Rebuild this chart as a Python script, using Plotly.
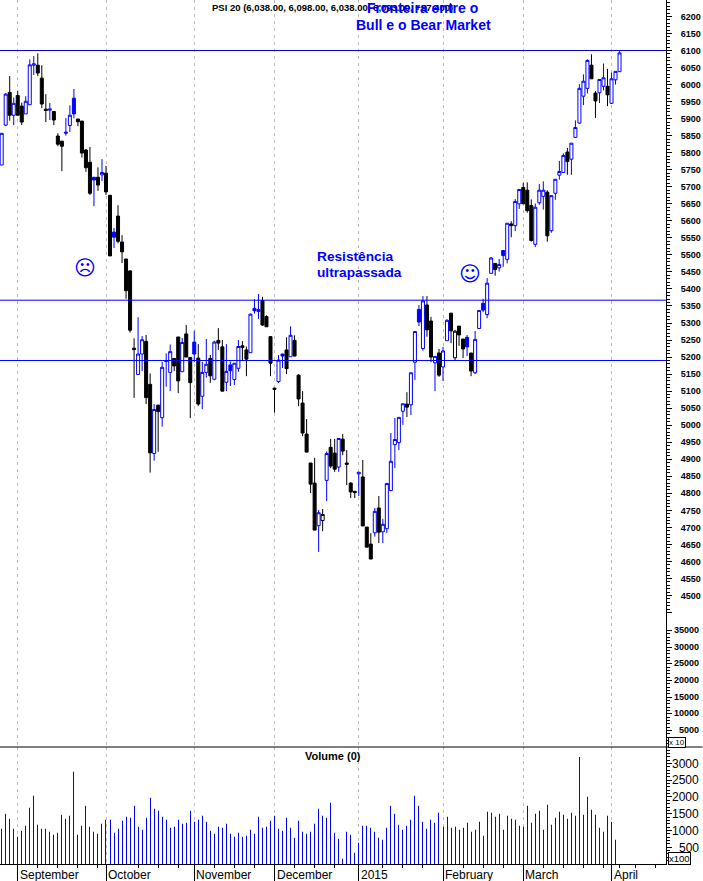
import plotly.graph_objects as go

opens = [5764,5881,5977,5910,5968,5937,5914,5941,6057,6057,
6019,5928,5925,5921,5849,5834,5857,5880,5960,5899,
5893,5808,5772,5728,5728,5735,5740,5675,5567,5614,
5538,5488,5453,5226,5149,5209,5246,5120,4917,5059,
5022,5187,5155,5196,5259,5157,5268,5199,5244,5197,
5085,5155,5196,5135,5249,5230,5126,5177,5134,5167,
5233,5221,5213,5343,5334,5366,5319,5260,5109,5128,
5209,5221,5201,5249,5147,5065,4974,4889,4830,4705,
4720,4838,4935,4918,4877,4959,4889,4830,4806,4857,
4848,4701,4651,4684,4757,4687,4696,4808,4943,4949,
5041,5062,5060,5185,5340,5225,5353,5306,5183,5212,
5171,5248,5329,5198,5291,5253,5258,5212,5154,5284,
5358,5325,5446,5475,5462,5513,5487,5591,5586,5650,
5698,5690,5645,5531,5653,5672,5684,5571,5681,5734,
5742,5802,5781,5845,5887,5966,5989,6057,5975,5976,
5995,5995,5945,6014,6038]
highs = [5857,5975,6025,5962,5982,5947,5966,6074,6084,6092,
6057,5972,5946,5921,5857,5834,5902,5939,5987,5899,
5893,5811,5817,5728,5757,5781,5761,5675,5579,5646,
5558,5488,5455,5255,5317,5262,5265,5152,5062,5059,
5186,5211,5237,5196,5259,5256,5294,5199,5277,5238,
5186,5253,5206,5248,5285,5250,5238,5187,5182,5250,
5247,5231,5328,5370,5385,5377,5323,5262,5109,5206,
5209,5258,5290,5264,5150,5100,5018,4889,4904,4751,
4754,4923,4960,4960,4961,4974,4927,4833,4806,4862,
4898,4701,4683,4757,4792,4725,4829,4977,5021,5023,
5063,5097,5154,5275,5353,5379,5379,5318,5202,5224,
5230,5311,5329,5280,5291,5253,5265,5212,5277,5337,
5371,5432,5494,5475,5488,5513,5593,5599,5664,5692,
5712,5713,5663,5651,5708,5716,5690,5674,5722,5776,
5798,5814,5828,5895,6001,6030,6074,6089,5981,6015,
6062,6046,6035,6039,6098]
lows = [5764,5878,5894,5881,5910,5881,5914,5941,6028,6025,
5931,5890,5896,5881,5819,5746,5850,5861,5901,5878,
5786,5744,5676,5643,5688,5717,5676,5497,5520,5534,
5476,5371,5272,5080,5149,5159,5062,4861,4896,4922,
4996,5113,5100,5159,5094,5157,5200,5021,5185,5056,
5047,5140,5124,5132,5221,5100,5100,5115,5118,5157,
5191,5144,5213,5328,5312,5292,5289,5144,5037,5124,
5168,5150,5201,5203,5056,4968,4921,4801,4692,4628,
4689,4777,4874,4863,4863,4912,4824,4786,4786,4792,
4704,4642,4607,4673,4654,4654,4683,4808,4874,4927,
5001,5024,5030,5133,5291,5219,5260,5185,5100,5142,
5130,5248,5241,5191,5233,5197,5203,5144,5150,5284,
5332,5314,5446,5439,5451,5465,5475,5552,5570,5635,
5650,5624,5539,5523,5647,5633,5539,5565,5662,5721,
5742,5735,5735,5845,5885,5940,5974,6017,5902,5946,
5983,5937,5943,6000,6038]
closes = [5857,5972,5910,5945,5910,5890,5951,6058,6061,6034,
5943,5924,5928,5896,5825,5819,5860,5910,5914,5891,
5799,5756,5681,5720,5705,5742,5685,5497,5552,5540,
5509,5395,5279,5222,5209,5251,5081,4919,5046,5040,
5170,5190,5216,5174,5130,5243,5200,5125,5209,5062,
5155,5179,5145,5244,5241,5100,5158,5160,5182,5231,
5228,5194,5326,5336,5340,5294,5289,5182,5105,5191,
5203,5166,5264,5203,5077,4977,4921,4827,4692,4743,
4738,4917,4880,4871,4961,4924,4885,4804,4802,4862,
4704,4642,4607,4747,4686,4709,4829,4894,4958,5023,
5063,5053,5154,5275,5303,5365,5280,5200,5202,5147,
5218,5308,5277,5276,5265,5224,5230,5159,5252,5337,
5338,5417,5491,5457,5472,5498,5593,5586,5657,5692,
5650,5630,5542,5640,5690,5690,5556,5674,5722,5745,
5792,5774,5828,5874,5989,6010,6071,6017,5952,6015,
6020,5970,6017,6039,6093]
advanced = [1,1,0,1,0,0,1,1,1,0,
0,0,1,0,0,0,1,1,1,0,
0,0,0,1,0,1,0,0,1,0,
0,0,0,0,1,1,0,0,1,0,
1,1,1,0,0,1,0,0,1,0,
1,1,0,1,0,0,1,1,1,1,
0,0,1,1,1,0,0,0,0,1,
1,0,1,0,0,0,0,0,0,1,
0,1,0,0,1,0,0,0,0,1,
0,0,0,1,0,1,1,1,1,1,
1,0,1,1,1,1,0,0,1,0,
1,1,0,0,0,0,1,0,1,1,
1,1,1,0,1,1,1,0,1,1,
0,0,0,1,1,1,0,1,1,1,
1,0,1,1,1,1,1,0,0,1,
1,0,1,1,1]
volumes = [1052,1498,1349,1052,813,992,1141,1676,2034,1171,
1052,1052,962,873,933,1468,1349,1438,2748,873,
1141,1736,1111,962,903,1200,1319,1319,933,1052,
1290,1409,1379,1736,1111,1022,1379,1974,1647,1587,
1409,1319,1081,1111,1319,1200,1230,1587,1260,1319,
1438,1260,992,903,1111,1081,1200,903,813,933,
813,843,1022,903,1409,1081,1111,1290,1438,1052,
992,1379,1081,784,1290,962,903,962,1200,1647,
1438,1379,1825,933,754,159,962,
873,337,635,1141,1141,1081,962,784,724,1081,
1736,1498,1171,1022,1141,1319,2034,1736,1260,1052,
1319,1230,1528,1111,1409,1081,1111,1022,1081,1230,
962,1022,1260,843,1557,1528,1409,1498,1022,1438,
1349,1319,1141,1111,1736,1230,1498,1587,1022,1766,
1171,1379,1557,1468,1349,1528,1438,3194,1468,2004,
1617,1468,1081,962,1438,1260,724,0]

month_bars = [4, 26, 48, 68, 89, 110, 130, 152]
month_labels = ["September", "October", "November", "December", "2015", "February", "March", "April"]
week_bars = [9,14,19,24,34,39,44,53,58,63,73,78,83,95,100,105,115,120,125,135,140,145,150,154,158,163]
levels = [6100, 5367, 5190]
level_colors = ["#0000c8", "#0000ff", "#0000ff"]
price_ticks = list(range(4450, 6201, 50))
price_labels = [str(v) if v >= 4500 else "" for v in price_ticks]
price_minor = [v for v in range(4450, 6250, 10) if v % 50]
aux_ticks = [5000, 10000, 15000, 20000, 25000, 30000, 35000]
aux_minor = [v for v in range(1000, 36000, 1000) if v % 5000]
vol_ticks = [500, 1000, 1500, 2000, 2500, 3000]
vol_minor = [v for v in range(100, 3500, 100) if v % 500]
title_text = "PSI 20 (6,038.00, 6,098.00, 6,038.00, 6,093.00, +57.400)"

FONT = "Liberation Sans"
BLUE = "#0000ff"
W, H = 666.5, 864.0
bars = list(range(len(closes)))

def pick(flag):
    idx = [i for i in bars if advanced[i] == flag]
    return dict(x=idx, open=[opens[i] for i in idx], high=[highs[i] for i in idx],
                low=[lows[i] for i in idx], close=[closes[i] for i in idx])

fig = go.Figure()
fig.add_trace(go.Candlestick(**pick(1), line_width=1, whiskerwidth=0, hoverinfo="skip",
    increasing=dict(line=dict(color=BLUE, width=1), fillcolor="white"),
    decreasing=dict(line=dict(color=BLUE, width=1), fillcolor=BLUE)))
fig.add_trace(go.Candlestick(**pick(0), line_width=1, whiskerwidth=0, hoverinfo="skip",
    increasing=dict(line=dict(color="black", width=1), fillcolor="white"),
    decreasing=dict(line=dict(color="black", width=1), fillcolor="black")))
fig.add_trace(go.Bar(x=bars, y=volumes, yaxis="y2", width=0.002, marker=dict(color=BLUE, line_width=0), hoverinfo="skip"))
fig.add_trace(go.Scatter(x=[0, 0], y=[0, 224000], yaxis="y3", mode="none", hoverinfo="skip"))

def note(text, px, py, size, color="black", anchor="left", bold=False, **kw):
    fig.add_annotation(text=f"<b>{text}</b>" if bold else text, xref="paper", yref="paper",
        x=px / W, y=1 - py / H, xanchor=anchor, yanchor="middle", showarrow=False,
        borderpad=0, font=dict(family=kw.pop("family", FONT), size=size, color=color), **kw)

for lv, col in zip(levels, level_colors):
    fig.add_shape(type="line", xref="x domain", yref="y", x0=0, x1=1, y0=lv, y1=lv, line=dict(color=col, width=1))
fig.add_shape(type="line", xref="paper", yref="paper", x0=0, x1=703 / W, y0=1 - 747 / H, y1=1 - 747 / H,
              line=dict(color="black", width=1))

for b, t in zip(month_bars, month_labels):
    fig.add_annotation(text=t, xref="x", yref="paper", x=b, y=0, xshift=1, yshift=-11, xanchor="left",
        yanchor="middle", showarrow=False, borderpad=0, font=dict(family=FONT, size=12, color="black"))

for v in aux_ticks:
    note(str(v), 700.5, 746.7 - v / 300, 9, anchor="right", bold=True)
for v in vol_ticks:
    note(str(v), 700.5, 864.3 - v * 0.0336, 12, anchor="right")

note(title_text, 333, 7, 9.5, anchor="center", bold=True)
note("Fronteira entre o", 422.5, 8, 14, BLUE, "center", bold=True)
note("Bull e o Bear Market", 424, 25, 14, BLUE, "center", bold=True)
note("Resistência", 316.5, 256, 13.7, BLUE, bold=True)
note("ultrapassada", 316.5, 272, 13.7, BLUE, bold=True)
note("☹", 85.5, 268, 21, BLUE, "center", family="DejaVu Sans")
note("☺", 470.5, 274, 21, BLUE, "center", family="DejaVu Sans")
note("Volume (0)", 333.5, 756, 11, anchor="center", bold=True)
note("x 10", 668.5, 742.5, 8, anchor="left", bgcolor="white", bordercolor="black", borderwidth=1)
note("x100", 669, 858.5, 9.5, anchor="left", bgcolor="white", bordercolor="black", borderwidth=1)

minor = lambda vals: dict(tickmode="array", tickvals=vals, ticks="outside", ticklen=3, tickwidth=1,
                          tickcolor="black", showgrid=False)

fig.update_layout(
    width=703, height=881, autosize=False, showlegend=False,
    margin=dict(l=0, r=36.5, t=0, b=17, pad=0),
    paper_bgcolor="white", plot_bgcolor="white",
    boxmode="overlay", boxgap=0.25, boxgroupgap=0, barmode="overlay",
    font=dict(family=FONT, color="black"),
    xaxis=dict(range=[-0.42, 165.58], anchor="y2", rangeslider=dict(visible=False),
        tickmode="array", tickvals=month_bars, ticktext=[""] * len(month_bars), ticks="outside", ticklen=17,
        tickwidth=1, tickcolor="black", showline=True, linecolor="black", linewidth=1,
        showgrid=True, gridcolor="#bdbdbd", griddash="3px,4px", gridwidth=1, zeroline=False,
        minor=minor(week_bars)),
    yaxis=dict(domain=[1 - 747 / H, 1], range=[4055.2, 6248.4], side="right", anchor="x",
        tickmode="array", tickvals=price_ticks, ticktext=price_labels, ticks="outside", ticklen=5,
        tickwidth=1, tickcolor="black", ticklabelstandoff=7,
        tickfont=dict(family=FONT, size=9, weight="bold", color="black"),
        showline=True, linecolor="black", linewidth=1, showgrid=False, zeroline=False,
        minor=minor(price_minor)),
    yaxis2=dict(domain=[0, 1 - 747 / H], range=[-0.5, 3490], side="right", anchor="x",
        tickmode="array", tickvals=vol_ticks, ticktext=[""] * len(vol_ticks), ticks="outside", ticklen=5,
        tickwidth=1, tickcolor="black", showline=True, linecolor="black", linewidth=1,
        showgrid=False, zeroline=False, minor=minor(vol_minor)),
    yaxis3=dict(domain=[1 - 747 / H, 1], range=[0, 224100], side="right", anchor="x", overlaying="y",
        tickmode="array", tickvals=aux_ticks, ticktext=[""] * len(aux_ticks), ticks="outside", ticklen=5,
        tickwidth=1, tickcolor="black", showline=False, showgrid=False, zeroline=False,
        minor=minor(aux_minor)),
)

fig.write_html("out.html", config=dict(displayModeBar=False),
               post_script="document.body.style.margin='0';document.body.style.overflow='hidden';")
